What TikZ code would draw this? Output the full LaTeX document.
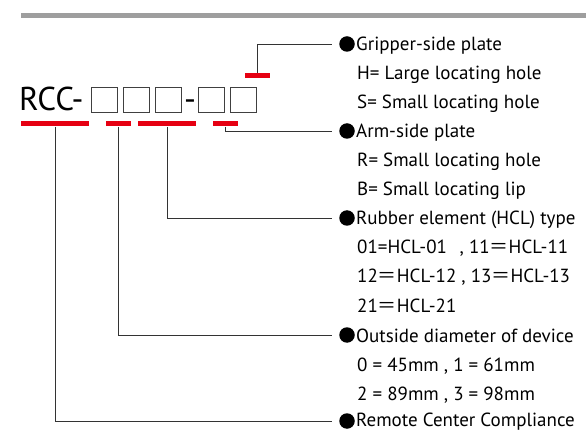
\documentclass[tikz,border=0pt]{standalone}
\usepackage{fontspec}
\setmainfont{PT Sans}
\newfontfamily\cjk{Noto Sans CJK JP}
\usepackage{tikz}
\usetikzlibrary{positioning}
\definecolor{codered}{RGB}{230,0,18}
\definecolor{rulegray}{RGB}{158,158,158}
\newcommand{\feq}{{\cjk ＝}}

\begin{document}
\begin{tikzpicture}[x=1pt,y=-1pt,
  redbar/.style={rectangle, fill=codered, inner sep=0pt, minimum width=#1, minimum height=5pt},
  slot/.style={rectangle, draw=black!75, line width=1pt, minimum width=26pt, minimum height=25pt, inner sep=0pt},
  dot/.style={circle, fill=black, inner sep=0pt, minimum size=15.5pt},
  label/.style={anchor=base west, inner sep=0pt, font=\fontsize{19}{22}\selectfont},
  lead/.style={draw=black!80, line width=0.9pt, shorten >=7pt}
]
\useasboundingbox (0,0) rectangle (586,430);
\fill[rulegray] (21,13) rectangle (586,18);

% model code
\node[anchor=base west, inner sep=0pt, font=\fontsize{33}{36}\selectfont] (code) at (19,111) {RCC-};
\node[slot] (s1) at (104,100) {};
\node[slot] (s2) at (136,100) {};
\node[slot] (s3) at (168.5,100) {};
\node[anchor=base, inner sep=0pt, font=\fontsize{33}{36}\selectfont] (dash) at (190,111) {-};
\node[slot] (s4) at (211,100) {};
\node[slot] (s5) at (243,100) {};

% red markers
\node[redbar=68pt] (bRcc) at (55,124) {};
\node[redbar=25pt] (bDia) at (118,124) {};
\node[redbar=58pt] (bHcl) at (167,124) {};
\node[redbar=25pt] (bArm) at (225,124) {};
\node[redbar=25pt] (bGrip) at (257,75.5) {};

% bullets
\node[dot] (dGrip) at (347,44) {};
\node[dot] (dArm) at (347,131) {};
\node[dot] (dHcl) at (347,218) {};
\node[dot] (dDia) at (347,335) {};
\node[dot] (dRcc) at (347,421) {};

% texts
\node[label] (tGrip) at (356,51) {Gripper-side plate};
\node[label] (gH) at (357,80) {H= Large locating hole};
\node[label] (gS) at (357,109) {S= Small locating hole};
\node[label] (tArm) at (356,138) {Arm-side plate};
\node[label] (aR) at (357,167) {R= Small locating hole};
\node[label] (aB) at (357,196) {B= Small locating lip};
\node[label] (tHcl) at (356,225) {Rubber element (HCL) type};
\node[label] (h1) at (357,254) {01=HCL-01\hspace{0.4em} , 11\feq HCL-11};
\node[label] (h2) at (357,283) {12\feq HCL-12 , 13\feq HCL-13};
\node[label] (h3) at (357,312) {21\feq HCL-21};
\node[label] (tDia) at (356,342) {Outside diameter of device};
\node[label] (d1) at (357,371) {0 = 45mm , 1 = 61mm};
\node[label] (d2) at (357,400) {2 = 89mm , 3 = 98mm};
\node[label] (tRcc) at (356,426) {Remote Center Compliance};

% leaders
\draw[lead] (bGrip.north) |- (dGrip);
\draw[lead] (bArm.south) |- (dArm);
\draw[lead] (bHcl.south) |- (dHcl);
\draw[lead] (bDia.south) |- (dDia);
\draw[lead] (bRcc.south) |- (dRcc);
\end{tikzpicture}
\end{document}
